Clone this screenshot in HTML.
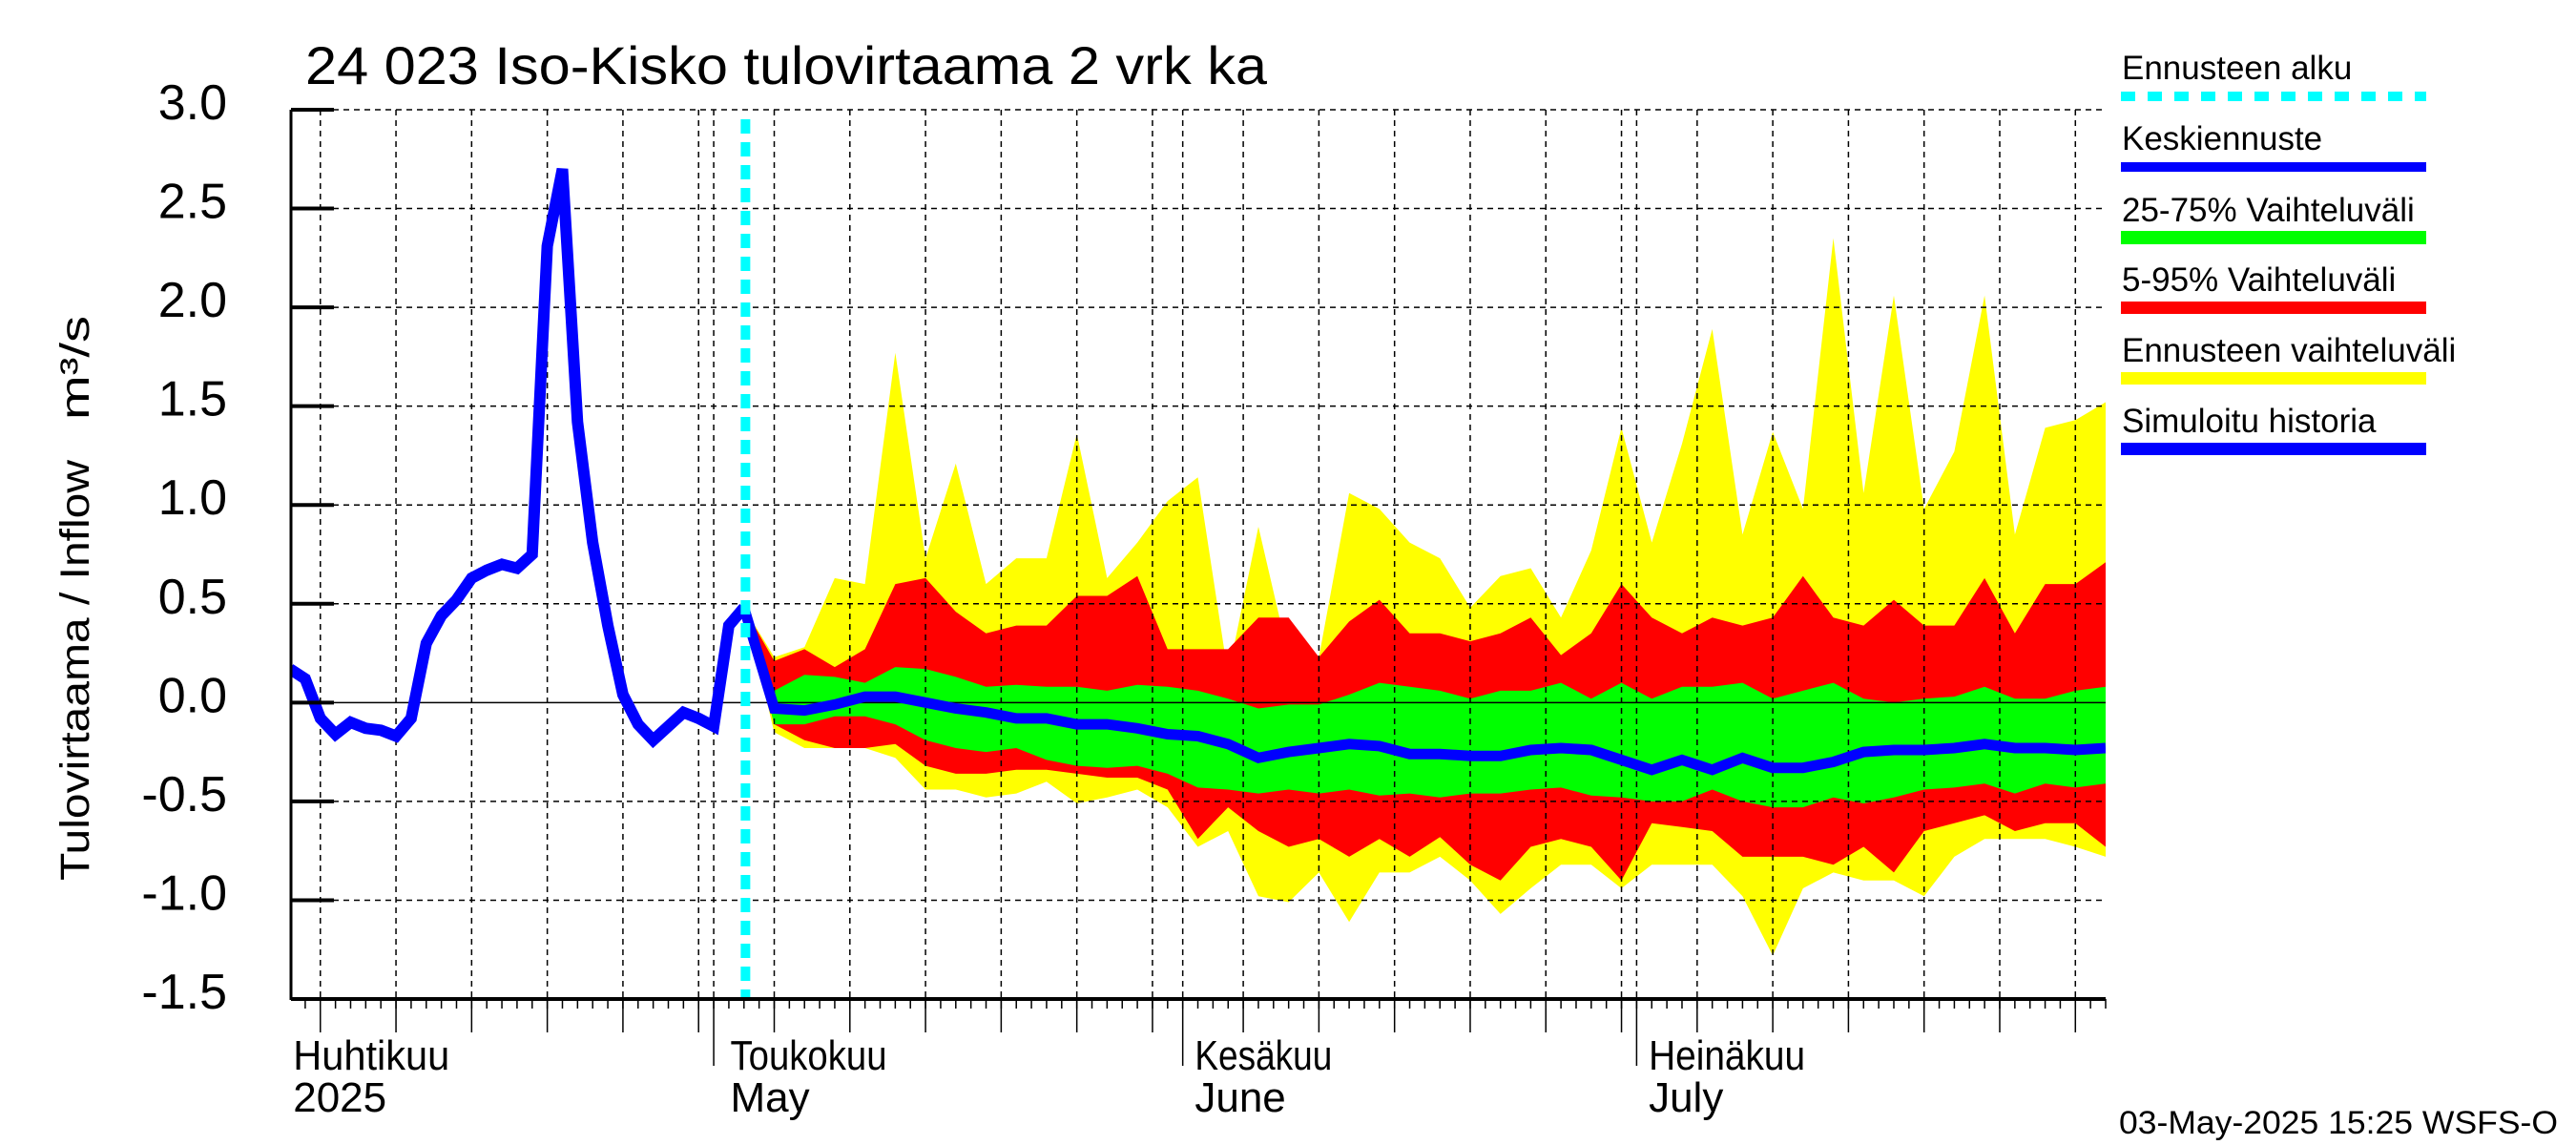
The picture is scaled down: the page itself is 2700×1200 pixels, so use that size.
<!DOCTYPE html>
<html><head><meta charset="utf-8"><title>24 023 Iso-Kisko tulovirtaama</title>
<style>html,body{margin:0;padding:0;background:#fff}svg{display:block}text{font-family:"Liberation Sans",sans-serif;fill:#000}</style>
</head><body>
<svg id="chart" xmlns="http://www.w3.org/2000/svg" width="2700" height="1200" viewBox="0 0 2700 1200">
<defs><clipPath id="plotclip"><rect x="305" y="100" width="1902" height="947"/></clipPath></defs>
<text x="320" y="88" font-size="56" textLength="1008" lengthAdjust="spacingAndGlyphs">24 023 Iso-Kisko tulovirtaama 2 vrk ka</text>
<g id="bands" clip-path="url(#plotclip)"></g>
<g id="grid"></g>
<g id="lines" clip-path="url(#plotclip)"></g>
<g id="axes"></g>
<text transform="translate(93,923) rotate(-90)" font-size="43" textLength="441" lengthAdjust="spacingAndGlyphs">Tulovirtaama / Inflow</text>
<text transform="translate(93,440) rotate(-90)" font-size="43" textLength="109" lengthAdjust="spacingAndGlyphs">m³/s</text>
<g font-size="35">
<text x="2224" y="83">Ennusteen alku</text>
<line x1="2223" y1="101" x2="2543" y2="101" stroke="#00ffff" stroke-width="10" stroke-dasharray="15,13"/>
<text x="2224" y="157">Keskiennuste</text>
<rect x="2223" y="170" width="320" height="10" fill="#0000ff"/>
<text x="2224" y="232">25-75% Vaihteluväli</text>
<rect x="2223" y="242" width="320" height="14" fill="#00ff00"/>
<text x="2224" y="305">5-95% Vaihteluväli</text>
<rect x="2223" y="316" width="320" height="13" fill="#ff0000"/>
<text x="2224" y="379">Ennusteen vaihteluväli</text>
<rect x="2223" y="390" width="320" height="13" fill="#ffff00"/>
<text x="2224" y="453">Simuloitu historia</text>
<rect x="2223" y="464" width="320" height="13" fill="#0000ff"/>
</g>
<text x="2221" y="1188" font-size="34" textLength="460" lengthAdjust="spacingAndGlyphs">03-May-2025 15:25 WSFS-O</text>
</svg>
<script>
// day index: 0 = 1 May 2025
const histDays = [-28,-27,-26,-25,-24,-23,-22,-21,-20,-19,-18,-17,-16,-15,-14,-13,-12,-11,-10,-9,-8,-7,-6,-5,-4,-3,-2,-1,0,1,2];
const histValues = [0.17,0.12,-0.08,-0.16,-0.10,-0.13,-0.14,-0.17,-0.08,0.30,0.44,0.52,0.63,0.67,0.70,0.68,0.75,2.31,2.70,1.42,0.81,0.39,0.04,-0.11,-0.19,-0.12,-0.05,-0.08,-0.12,0.39,0.48];
const fcDays = [2,4,6,8,10,12,14,16,18,20,22,24,26,28,30,32,34,36,38,40,42,44,46,48,50,52,54,56,58,60,62,64,66,68,70,72,74,76,78,80,82,84,86,88,90,92];
const fcMax = [0.48,0.23,0.28,0.63,0.60,1.77,0.73,1.21,0.60,0.73,0.73,1.36,0.63,0.81,1.02,1.14,0.14,0.89,0.23,0.23,1.06,0.98,0.81,0.73,0.48,0.64,0.68,0.43,0.77,1.39,0.81,1.31,1.89,0.85,1.37,0.98,2.35,1.06,2.06,0.98,1.27,2.06,0.85,1.39,1.43,1.52];
const fcP95 = [0.48,0.21,0.27,0.18,0.27,0.60,0.63,0.46,0.35,0.39,0.39,0.54,0.54,0.64,0.27,0.27,0.27,0.43,0.43,0.23,0.41,0.52,0.35,0.35,0.31,0.35,0.43,0.24,0.35,0.60,0.43,0.35,0.43,0.39,0.43,0.64,0.43,0.39,0.52,0.39,0.39,0.63,0.35,0.60,0.60,0.71];
const fcP75 = [0.48,0.06,0.14,0.13,0.10,0.18,0.17,0.13,0.08,0.09,0.08,0.08,0.06,0.09,0.08,0.06,0.02,-0.03,-0.01,-0.01,0.04,0.10,0.08,0.06,0.02,0.06,0.06,0.10,0.02,0.10,0.02,0.08,0.08,0.10,0.02,0.06,0.10,0.02,0.00,0.02,0.03,0.08,0.02,0.02,0.06,0.08];
const fcMedian = [0.48,-0.03,-0.04,-0.01,0.03,0.03,0.00,-0.03,-0.05,-0.08,-0.08,-0.11,-0.11,-0.13,-0.16,-0.17,-0.21,-0.28,-0.25,-0.23,-0.21,-0.22,-0.26,-0.26,-0.27,-0.27,-0.24,-0.23,-0.24,-0.29,-0.34,-0.29,-0.34,-0.28,-0.33,-0.33,-0.30,-0.25,-0.24,-0.24,-0.23,-0.21,-0.23,-0.23,-0.24,-0.23];
const fcP25 = [0.48,-0.11,-0.11,-0.07,-0.07,-0.11,-0.19,-0.23,-0.25,-0.23,-0.29,-0.32,-0.33,-0.32,-0.36,-0.43,-0.44,-0.46,-0.44,-0.46,-0.44,-0.47,-0.46,-0.48,-0.46,-0.46,-0.44,-0.43,-0.47,-0.48,-0.50,-0.50,-0.44,-0.50,-0.53,-0.53,-0.48,-0.51,-0.48,-0.44,-0.43,-0.41,-0.46,-0.41,-0.43,-0.41];
const fcP5 = [0.48,-0.11,-0.19,-0.23,-0.23,-0.21,-0.32,-0.36,-0.36,-0.34,-0.34,-0.36,-0.38,-0.38,-0.44,-0.69,-0.53,-0.65,-0.73,-0.69,-0.78,-0.69,-0.78,-0.68,-0.82,-0.90,-0.73,-0.69,-0.73,-0.90,-0.61,-0.63,-0.65,-0.78,-0.78,-0.78,-0.82,-0.73,-0.86,-0.65,-0.61,-0.57,-0.65,-0.61,-0.61,-0.73];
const fcMin = [0.48,-0.15,-0.23,-0.23,-0.23,-0.28,-0.44,-0.44,-0.48,-0.46,-0.40,-0.51,-0.48,-0.44,-0.53,-0.73,-0.65,-0.98,-1.01,-0.86,-1.11,-0.86,-0.86,-0.78,-0.90,-1.07,-0.94,-0.82,-0.82,-0.94,-0.82,-0.82,-0.82,-0.98,-1.28,-0.94,-0.86,-0.90,-0.90,-0.98,-0.78,-0.69,-0.69,-0.69,-0.73,-0.78];
const yTicks = [3.0,2.5,2.0,1.5,1.0,0.5,0.0,-0.5,-1.0,-1.5];
const yTickLabels = ["3.0","2.5","2.0","1.5","1.0","0.5","0.0","-0.5","-1.0","-1.5"];
const forecastStartDay = 2.1;
const monthStartDays = [0,31,61];
const monthOffsets = [-31,-1,30,60];
const gridDayOfMonth = [5,10,15,20,25,30];
const monthLabelsFi = ["Huhtikuu","Toukokuu","Kesäkuu","Heinäkuu"];
const monthLabelsEn = ["2025","May","June","July"];
const monthLabelDays = [-27.8,1.1,31.8,61.8];

const NS = "http://www.w3.org/2000/svg";
const X0 = 305, X1 = 2207, Y0 = 1047, Y1 = 115;
const dMin = -27.94, dMax = 92;
const vMin = -1.5, vMax = 3.0;
function xS(d){ return X0 + (d - dMin) * (X1 - X0) / (dMax - dMin); }
function yS(v){ return Y0 - (v - vMin) * (Y0 - Y1) / (vMax - vMin); }
function mk(tag, attrs, parent){ const e = document.createElementNS(NS, tag); for (const k in attrs) e.setAttribute(k, attrs[k]); parent.appendChild(e); return e; }

const bands = document.getElementById('bands');
function band(upper, lower, color, name){
  let pts = [];
  for (let i = 0; i < fcDays.length; i++) pts.push(xS(fcDays[i]).toFixed(1) + ',' + yS(upper[i]).toFixed(1));
  for (let i = fcDays.length - 1; i >= 0; i--) pts.push(xS(fcDays[i]).toFixed(1) + ',' + yS(lower[i]).toFixed(1));
  const p = mk('polygon', {points: pts.join(' '), fill: color}, bands);
  
  
}
band(fcMax, fcMin, '#ffff00', 'forecast-range-band');
band(fcP95, fcP5, '#ff0000', 'p5-95-band');
band(fcP75, fcP25, '#00ff00', 'p25-75-band');

const grid = document.getElementById('grid');
const gridDays = [];
for (const mo of monthOffsets) {
  for (const dd of gridDayOfMonth) { const d = mo + dd; if (d > dMin && d < dMax + 0.5) gridDays.push(d); }
}
for (const d of gridDays) {
  const gl = mk('line', {x1: xS(d), x2: xS(d), y1: Y1, y2: Y0, stroke: '#000', 'stroke-width': 1.5, 'stroke-dasharray': '6,5'}, grid);
  
  
}
for (const d of monthStartDays) {
  const gl = mk('line', {x1: xS(d), x2: xS(d), y1: Y1, y2: Y0, stroke: '#000', 'stroke-width': 1.5, 'stroke-dasharray': '6,5'}, grid);
  
  
}
for (const v of yTicks) {
  if (v === 0) continue;
  const gl = mk('line', {x1: X0, x2: X1, y1: yS(v), y2: yS(v), stroke: '#000', 'stroke-width': 1.5, 'stroke-dasharray': '6,5'}, grid);
  
  
}
const zl = mk('line', {x1: X0, x2: X1, y1: yS(0), y2: yS(0), stroke: '#000', 'stroke-width': 1.5}, grid);



const lines = document.getElementById('lines');
const hp = mk('polyline', {points: histDays.map((d,i)=>xS(d).toFixed(1)+','+yS(histValues[i]).toFixed(1)).join(' '), fill: 'none', stroke: '#0000ff', 'stroke-width': 12, 'stroke-linejoin': 'miter'}, lines);


const mp = mk('polyline', {points: fcDays.map((d,i)=>xS(d).toFixed(1)+','+yS(fcMedian[i]).toFixed(1)).join(' '), fill: 'none', stroke: '#0000ff', 'stroke-width': 11}, lines);


const cy = mk('line', {x1: xS(forecastStartDay), x2: xS(forecastStartDay), y1: Y1 + 10, y2: Y0, stroke: '#00ffff', 'stroke-width': 10, 'stroke-dasharray': '15,9'}, lines);



const axes = document.getElementById('axes');
const ya = mk('line', {x1: X0, x2: X0, y1: Y1, y2: Y0 + 1, stroke: '#000', 'stroke-width': 3}, axes);


const xa = mk('line', {x1: X0, x2: X1, y1: Y0, y2: Y0, stroke: '#000', 'stroke-width': 4}, axes);


yTicks.forEach((v, i) => {
  const t = mk('line', {x1: X0, x2: X0 + 45, y1: yS(v), y2: yS(v), stroke: '#000', 'stroke-width': 4}, axes);
  
  
  const lb = mk('text', {x: 238, y: yS(v) + 10, 'font-size': 52, 'text-anchor': 'end'}, axes);
  lb.textContent = yTickLabels[i];
  
  
});
for (let d = Math.ceil(dMin); d <= dMax; d++) {
  const t = mk('line', {x1: xS(d), x2: xS(d), y1: Y0, y2: Y0 + 10, stroke: '#000', 'stroke-width': 1.5}, axes);
  
  
}
for (const d of gridDays) {
  const t = mk('line', {x1: xS(d), x2: xS(d), y1: Y0, y2: 1082, stroke: '#000', 'stroke-width': 1.5}, axes);
  
  
}
for (const d of monthStartDays) {
  const t = mk('line', {x1: xS(d), x2: xS(d), y1: Y0, y2: 1117, stroke: '#000', 'stroke-width': 1.5}, axes);
  
  
}
monthLabelDays.forEach((d, i) => {
  const a = mk('text', {x: xS(d), y: 1121, 'font-size': 44}, axes);
  a.textContent = monthLabelsFi[i];
  
  
  a.setAttribute('textLength', (monthLabelsFi[i].length * 20.5).toFixed(0));
  a.setAttribute('lengthAdjust', 'spacingAndGlyphs');
  const b = mk('text', {x: xS(d), y: 1165, 'font-size': 44}, axes);
  b.textContent = monthLabelsEn[i];
  
  
});
</script>
</body></html>
